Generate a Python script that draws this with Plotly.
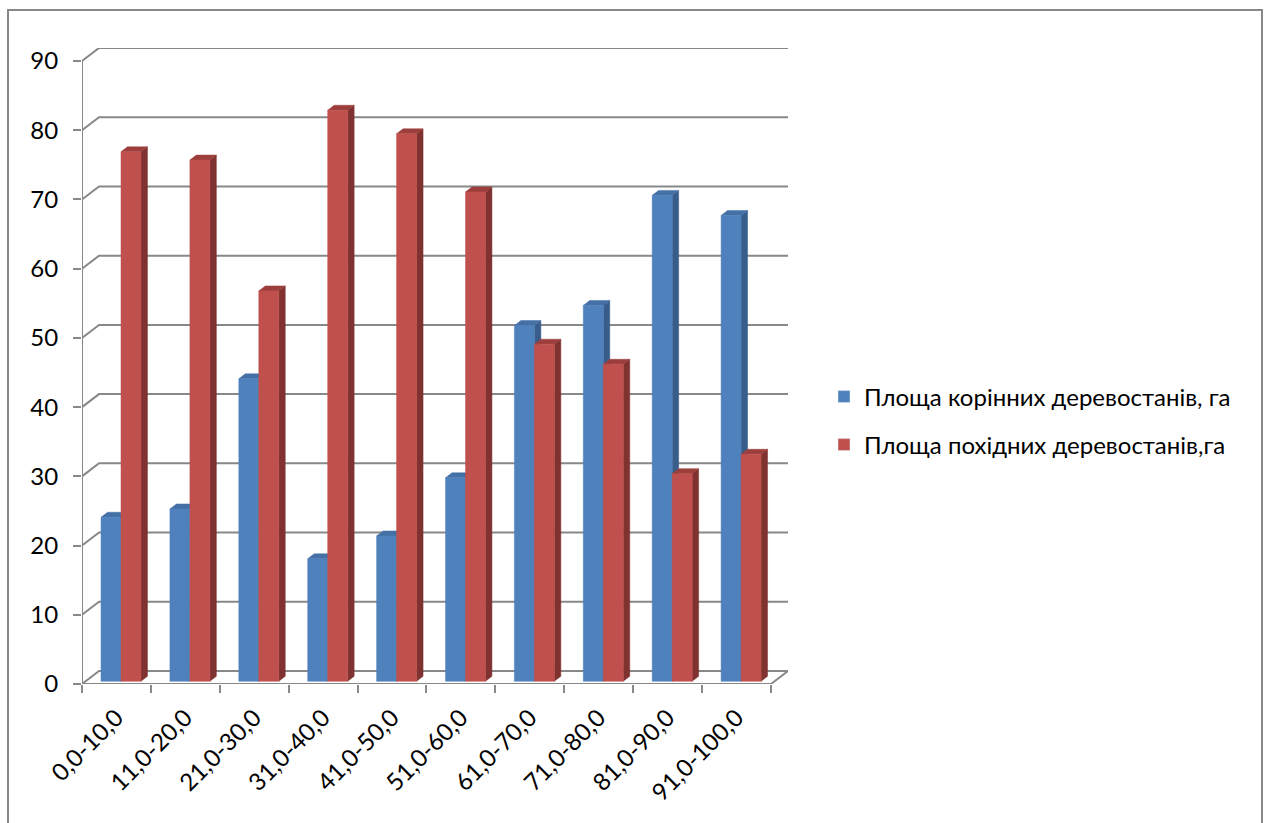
import plotly.graph_objects as go

# ---- data ----
categories = ["0,0-10,0", "11,0-20,0", "21,0-30,0", "31,0-40,0", "41,0-50,0",
              "51,0-60,0", "61,0-70,0", "71,0-80,0", "81,0-90,0", "91,0-100,0"]
native_area = [23.7, 24.9, 43.7, 17.7, 21.0, 29.4, 51.4, 54.3, 70.2, 67.3]
derived_area = [76.5, 75.3, 56.4, 82.5, 79.1, 70.7, 48.7, 45.8, 30.0, 32.8]
series_names = ["Площа корінних деревостанів, га", "Площа похідних деревостанів,га"]
y_ticks = [0, 10, 20, 30, 40, 50, 60, 70, 80, 90]

# ---- geometry / style (pseudo-3D) ----
N = len(categories)
DXW, DYW = 0.247, 1.88        # back-wall offset (x in category units, y in value units)
BAR_L, BAR_W = 0.276, 0.290   # first bar left offset inside a category, bar width
BASE = 0.39                   # bar base lift (bars sit slightly behind the floor edge)
SDX, SDY = 0.094, 0.72        # bar depth offset
GRID = "#888888"
FONT = "Lato"
FS = 24

colors = [
    {"front": "#4F81BD", "side": "#385D8A", "top": "#4470A6"},
    {"front": "#C0504D", "side": "#7F3230", "top": "#9C3F3C"},
]

L, R, T, B = 82, 788, 48, 684
W, H = 1268, 823
pw, ph = R - L, B - T

fig = go.Figure()

def px_to_paper_x(p):
    return (p - L) / pw

def px_to_paper_y(p):
    return (B - p) / ph

# grid lines on back wall + diagonals to front axis
gx, gy = [], []
for v in y_ticks:
    gx += [0, DXW, N + DXW, None]
    gy += [v, v + DYW, v + DYW, None]
# front vertical axis
gx += [0, 0, None]
gy += [0, y_ticks[-1], None]
# floor front edge and right diagonal
gx += [0, N, N + DXW, None]
gy += [0, 0, DYW, None]
fig.add_trace(go.Scatter(x=gx, y=gy, mode="lines", line=dict(color=GRID, width=2),
                         hoverinfo="skip", showlegend=False, cliponaxis=False))

# bars as polygons
for s, vals in enumerate([native_area, derived_area]):
    fx, fy, sx, sy, tx, ty = [], [], [], [], [], []
    for i, v in enumerate(vals):
        xl = i + BAR_L + s * BAR_W
        xr = xl + BAR_W
        y0 = BASE
        y1 = BASE + v
        fx += [xl, xr, xr, xl, xl, None]
        fy += [y0, y0, y1, y1, y0, None]
        sx += [xr, xr + SDX, xr + SDX, xr, xr, None]
        sy += [y0, y0 + SDY, y1 + SDY, y1, y0, None]
        tx += [xl, xr, xr + SDX, xl + SDX, xl, None]
        ty += [y1, y1, y1 + SDY, y1 + SDY, y1, None]
    c = colors[s]
    for xx, yy, col in [(sx, sy, c["side"]), (tx, ty, c["top"]), (fx, fy, c["front"])]:
        fig.add_trace(go.Scatter(x=xx, y=yy, mode="lines", fill="toself", fillcolor=col,
                                 line=dict(color=col, width=0.5), hoverinfo="skip",
                                 showlegend=False))
    # legend entry
    fig.add_trace(go.Bar(x=[None], y=[None], name=series_names[s],
                         marker=dict(color=c["front"]), showlegend=True,
                         legend="legend" if s == 0 else "legend2"))

# x labels axis (overlay)
fig.add_trace(go.Scatter(x=[None], y=[None], xaxis="x2", showlegend=False, hoverinfo="skip"))

fig.update_layout(
    width=W, height=H,
    margin=dict(l=L, r=W - R, t=T, b=H - B, autoexpand=False),
    paper_bgcolor="white", plot_bgcolor="white",
    font=dict(family=FONT, size=FS, color="#000000"),
    xaxis=dict(range=[0, N + DXW], tickmode="array", tickvals=list(range(N + 1)),
               showticklabels=False, ticks="outside", ticklen=8, tickwidth=2,
               tickcolor=GRID, showgrid=False, zeroline=False, showline=False,
               fixedrange=True),
    xaxis2=dict(range=[0, N + DXW], overlaying="x", anchor="y", side="bottom",
                tickmode="array", tickvals=[i + 0.5 for i in range(N)],
                ticktext=categories, tickangle=-45, ticks="", showgrid=False,
                zeroline=False, showline=False, ticklabelstandoff=14,
                tickfont=dict(family=FONT, size=FS, color="#000000")),
    yaxis=dict(range=[0, y_ticks[-1] + DYW], tickmode="array", tickvals=y_ticks,
               ticks="outside", ticklen=8, tickwidth=2, tickcolor=GRID,
               showgrid=False, zeroline=False, showline=False, ticklabelstandoff=10,
               tickfont=dict(family=FONT, size=FS, color="#000000")),
    legend=dict(x=px_to_paper_x(824), y=px_to_paper_y(397), xanchor="left", yanchor="middle",
                font=dict(family=FONT, size=FS, color="#000000"), bgcolor="rgba(0,0,0,0)"),
    legend2=dict(x=px_to_paper_x(824), y=px_to_paper_y(445), xanchor="left", yanchor="middle",
                 font=dict(family=FONT, size=FS, color="#000000"), bgcolor="rgba(0,0,0,0)"),
    shapes=[dict(type="rect", xref="paper", yref="paper",
                 x0=px_to_paper_x(8), x1=px_to_paper_x(1262),
                 y0=px_to_paper_y(840), y1=px_to_paper_y(10),
                 line=dict(color="#888888", width=2), fillcolor="rgba(0,0,0,0)", layer="below")],
    bargap=0,
)

fig.write_html("out.html")
